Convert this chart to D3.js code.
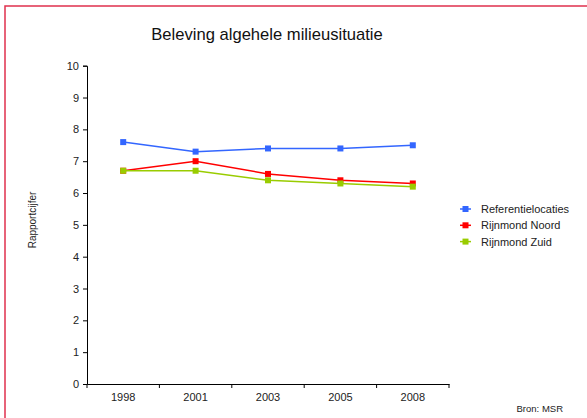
<!DOCTYPE html>
<html><head><meta charset="utf-8">
<script src="https://cdn.jsdelivr.net/npm/d3@7"></script>
<style>body{margin:0;background:#fff}svg{display:block;font-family:"Liberation Sans",Arial,sans-serif}</style>
</head><body>
<svg id="c" width="587" height="418"></svg>
<script>
const years = ["1998","2001","2003","2005","2008"];
const referentielocaties = [7.6, 7.3, 7.4, 7.4, 7.5];
const rijnmondNoord = [6.7, 7.0, 6.6, 6.4, 6.3];
const rijnmondZuid = [6.7, 6.7, 6.4, 6.3, 6.2];
const yTicks = [0,1,2,3,4,5,6,7,8,9,10];
const seriesNames = ["Referentielocaties","Rijnmond Noord","Rijnmond Zuid"];
const seriesColors = ["#3366ff","#ff0000","#99cc00"];

const series = [referentielocaties, rijnmondNoord, rijnmondZuid].map((v,i)=>({name:seriesNames[i], color:seriesColors[i], values:v}));
const svg = d3.select("#c");
svg.append("rect").attr("x",5).attr("y",6).attr("width",600).attr("height",430)
  .attr("fill","none").attr("stroke","#e0304e").attr("stroke-width",1.5);

const L=87,R=449,T=65.7,B=384;
const x = d3.scaleBand().domain(years).range([L,R]);
const y = d3.scaleLinear().domain([0,10]).range([B,T]);

svg.append("text").attr("x",267).attr("y",40).attr("text-anchor","middle")
  .attr("font-size",16.6).attr("fill","#111").text("Beleving algehele milieusituatie");

const ya = svg.append("g").attr("transform",`translate(${L},0)`)
  .call(d3.axisLeft(y).tickValues(yTicks).tickSize(4).tickPadding(4).tickFormat(d3.format("d")));
ya.selectAll("text").attr("font-size",11).attr("fill","#222").attr("font-family","Liberation Sans, Arial, sans-serif");
ya.select(".domain").attr("stroke","#000");

const xa = svg.append("g").attr("transform",`translate(0,${B})`)
  .call(d3.axisBottom(x).tickSize(0).tickPadding(9));
xa.selectAll("text").attr("font-size",11).attr("fill","#222").attr("font-family","Liberation Sans, Arial, sans-serif");
xa.select(".domain").attr("stroke","#000");
const bounds = years.map(d=>x(d)).concat([x(years[years.length-1])+x.bandwidth()]);
xa.selectAll(".bt").data(bounds).enter().append("line").attr("class","bt")
  .attr("x1",d=>d).attr("x2",d=>d).attr("y1",0).attr("y2",4).attr("stroke","#000");

svg.append("text").attr("transform","translate(36,220) rotate(-90)").attr("text-anchor","middle")
  .attr("font-size",10).attr("fill","#222").text("Rapportcijfer");

const cx = d=>x(d)+x.bandwidth()/2;
const line = d3.line().x((d,i)=>cx(years[i])).y(d=>y(d));
series.forEach(s=>{
  svg.append("path").attr("d",line(s.values)).attr("fill","none").attr("stroke",s.color).attr("stroke-width",1.5);
  svg.selectAll(null).data(s.values).enter().append("rect")
    .attr("x",(d,i)=>cx(years[i])-3).attr("y",d=>y(d)-3).attr("width",6).attr("height",6).attr("fill",s.color);
});

const lg = svg.append("g");
series.forEach((s,i)=>{
  const yy = 209 + i*16.3;
  lg.append("line").attr("x1",460).attr("x2",471).attr("y1",yy).attr("y2",yy).attr("stroke",s.color).attr("stroke-width",1.5);
  lg.append("rect").attr("x",462.5).attr("y",yy-3).attr("width",6).attr("height",6).attr("fill",s.color);
  lg.append("text").attr("x",481).attr("y",yy+4).attr("font-size",11).attr("fill","#222").text(s.name);
});

svg.append("text").attr("x",563).attr("y",412).attr("text-anchor","end").attr("font-size",9.5).attr("fill","#222").text("Bron: MSR");
</script>
</body></html>
